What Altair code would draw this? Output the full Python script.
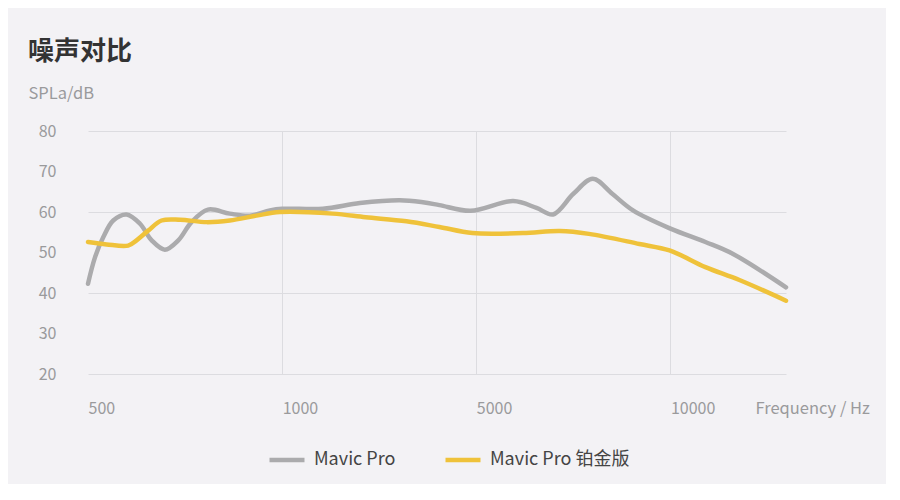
import altair as alt
import pandas as pd

# positions on the (categorical-like) frequency axis: 0=500, 1=1000, 2=5000, 3=10000
tick_pos = [0, 1, 2, 3]
tick_labels = ["500", "1000", "5000", "10000"]

series_names = ["Mavic Pro", "Mavic Pro 铂金版"]
series_colors = ["#ababad", "#efc23a"]

gray_pos = [0, 0.036, 0.079, 0.13, 0.199, 0.268, 0.328, 0.396, 0.465, 0.533, 0.618,
            0.73, 0.834, 0.937, 1.0, 1.21, 1.40, 1.606, 1.725, 1.81, 1.97, 2.19, 2.31,
            2.395, 2.50, 2.60, 2.70, 2.807, 3.0, 3.18, 3.32, 3.595]
gray_val = [42.3, 48.8, 53.8, 57.9, 59.4, 57.1, 53.0, 50.7, 53.0, 57.5, 60.6,
            59.6, 59.1, 60.4, 60.8, 60.8, 62.2, 62.9, 62.4, 61.7, 60.3, 62.7, 61.0,
            59.4, 64.5, 68.2, 64.5, 60.4, 55.9, 52.6, 49.7, 41.4]

yellow_pos = [0, 0.096, 0.207, 0.25, 0.31, 0.379, 0.474, 0.611, 0.73, 0.868, 0.988,
              1.26, 1.43, 1.64, 1.81, 1.98, 2.24, 2.43, 2.58, 2.84, 2.995, 3.18, 3.355, 3.595]
yellow_val = [52.6, 52.0, 51.7, 53.0, 55.4, 57.9, 58.1, 57.5, 57.9, 59.1, 60.0,
              59.6, 58.7, 57.7, 56.3, 54.8, 54.8, 55.3, 54.6, 52.1, 50.5, 46.4, 43.2, 38.1]

df = pd.concat([
    pd.DataFrame({"pos": gray_pos, "val": gray_val, "series": series_names[0], "ord": range(len(gray_pos))}),
    pd.DataFrame({"pos": yellow_pos, "val": yellow_val, "series": series_names[1], "ord": range(len(yellow_pos))}),
])

label_expr = " : ".join(
    [f"datum.value == {p} ? '{l}'" for p, l in zip(tick_pos, tick_labels)]
) + " : ''"

FONT = "Noto Sans CJK SC"

chart = alt.Chart(df).mark_line(strokeWidth=4.5, interpolate="catmull-rom", strokeCap="round").encode(
    x=alt.X("pos:Q",
            scale=alt.Scale(domain=[0, 3.595], nice=False, zero=False),
            axis=alt.Axis(values=tick_pos, labelExpr=label_expr, grid=True,
                          gridOpacity=alt.condition("datum.value == 0", alt.value(0), alt.value(1)),
                          gridColor="#dcdce0", gridWidth=1,
                          ticks=False, tickSize=0, domain=False,
                          labelAlign="left", labelBaseline="middle", labelPadding=34,
                          labelFontSize=16, labelColor="#9a9a9c", labelFont=FONT,
                          title="Frequency / Hz", titleX=667, titleY=34,
                          titleAlign="left", titleBaseline="middle", titleFont=FONT,
                          titleFontSize=16.5, titleFontWeight="normal", titleColor="#9a9a9c")),
    y=alt.Y("val:Q",
            scale=alt.Scale(domain=[20, 80], nice=False, zero=False),
            axis=alt.Axis(values=[20, 30, 40, 50, 60, 70, 80], grid=True,
                          gridOpacity=alt.condition("datum.value % 20 != 0", alt.value(0), alt.value(1)),
                          gridColor="#dcdce0", gridWidth=1,
                          ticks=False, tickSize=0, domain=False,
                          labelPadding=32, labelFontSize=16, labelColor="#9a9a9c", labelFont=FONT,
                          labelBaseline="middle",
                          title="SPLa/dB", titleAngle=0, titleX=-60, titleY=-38,
                          titleAlign="left", titleBaseline="middle", titleFont=FONT,
                          titleFontSize=16.5, titleFontWeight="normal", titleColor="#9a9a9c")),
    color=alt.Color("series:N",
                    scale=alt.Scale(domain=series_names, range=series_colors),
                    legend=alt.Legend(orient="none", legendX=179, legendY=309, direction="horizontal",
                                      title=None, symbolType="stroke", symbolSize=1225,
                                      symbolStrokeWidth=4.5, labelFontSize=18, labelColor="#444444",
                                      labelFont=FONT, labelOffset=7, columnPadding=40)),
    order="ord:Q",
).properties(
    width=698,
    height=243,
    title=alt.TitleParams("噪声对比", anchor="start", frame="group", dx=-60, offset=20,
                          fontSize=26, fontWeight="bold", color="#333333", font=FONT),
    autosize=alt.AutoSizeParams(type="none"),
    padding={"left": 80, "top": 123, "right": 100, "bottom": 110},
).configure(background="#f3f2f5").configure_view(stroke=None)

chart.save("out.html", embed_options={"renderer": "svg", "actions": False})
